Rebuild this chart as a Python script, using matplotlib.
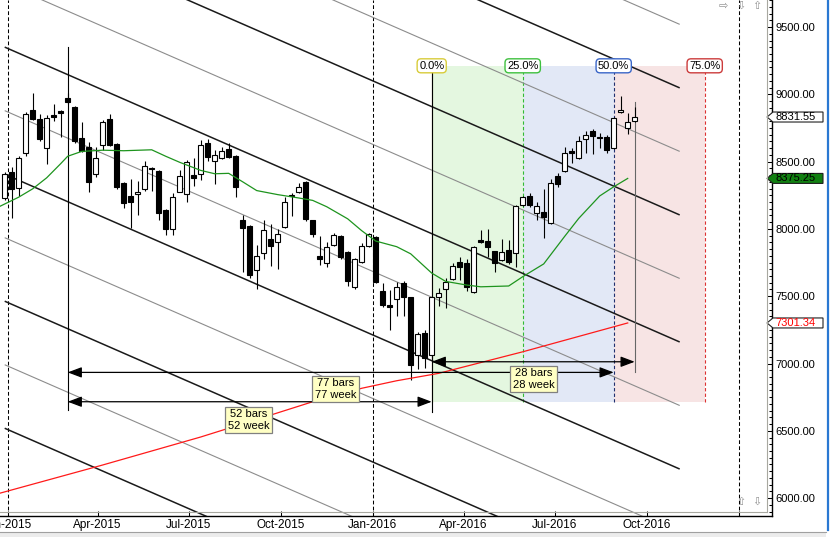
import matplotlib
matplotlib.use('Agg')
import matplotlib.pyplot as plt
import matplotlib.dates as mdates
import matplotlib.transforms as mtransforms
from matplotlib.patches import Rectangle, Polygon
from matplotlib.lines import Line2D
from matplotlib.ticker import MultipleLocator, FormatStrFormatter, FixedLocator
import pandas as pd

plt.rcParams['font.family'] = ['Liberation Sans', 'DejaVu Sans']

# weekly bars, first bar = week of 29 Dec 2014
first_week = '2014-12-29'
opens = [8229, 8423, 8304, 8564, 8883, 8816, 8601, 8846, 8876, 8972,
         8906, 8675, 8608, 8408, 8623, 8816, 8631, 8341, 8244, 8259,
         8296, 8452, 8430, 8140, 7999, 8274, 8259, 8400, 8408, 8638,
         8504, 8527, 8594, 8542, 8066, 8021, 7695, 7821, 7925, 7903,
         8014, 8244, 8274, 8348, 8066, 7799, 7746, 7880, 7947, 7828,
         7568, 7754, 7873, 7940, 7539, 7434, 7479, 7598, 7494, 7063,
         7227, 7063, 7494, 7553, 7628, 7754, 7746, 7531, 7917, 7910,
         7836, 7769, 7843, 7821, 8177, 8244, 8118, 8125, 8044, 8393,
         8430, 8579, 8527, 8668, 8727, 8683, 8683, 8601, 8868, 8750,
         8802]
highs = [8423, 8460, 8542, 8868, 9010, 8854, 8846, 8928, 8883, 9010,
         8910, 8794, 8645, 8608, 8809, 8854, 8638, 8348, 8371, 8356,
         8504, 8460, 8438, 8148, 8267, 8438, 8512, 8527, 8660, 8668,
         8586, 8608, 8638, 8549, 8103, 8029, 7880, 8066, 8036, 7999,
         8237, 8267, 8341, 8355, 8070, 7947, 7903, 7970, 7955, 7835,
         7784, 7895, 7970, 7947, 7598, 7546, 7605, 7613, 7494, 7234,
         7249, 7501, 7561, 7635, 7747, 7791, 7776, 7873, 7992, 7999,
         7836, 7925, 7917, 8177, 8245, 8267, 8200, 8296, 8371, 8415,
         8608, 8601, 8690, 8727, 8742, 8712, 8698, 8831, 8987, 8861,
         8906]
lows = [8214, 8081, 8244, 8542, 8810, 8653, 8482, 8802, 8683, 8928,
        8638, 8571, 8274, 8385, 8586, 8616, 8296, 8155, 8007, 8103,
        8281, 8281, 8066, 7955, 7955, 8274, 8200, 8318, 8363, 8504,
        8334, 8520, 8527, 8237, 7680, 7635, 7553, 7776, 7724, 7702,
        8007, 8096, 8267, 8059, 7940, 7732, 7717, 7873, 7776, 7576,
        7553, 7746, 7866, 7598, 7420, 7249, 7353, 7353, 6877, 6959,
        6967, 7041, 7427, 7412, 7620, 7620, 7539, 7524, 7895, 7791,
        7680, 7761, 7740, 7717, 8170, 8163, 8066, 7932, 8036, 8311,
        8423, 8490, 8520, 8564, 8556, 8601, 8564, 8594, 8861, 8705,
        8795]
closes = [8408, 8296, 8527, 8854, 8816, 8668, 8824, 8831, 8861, 8943,
          8653, 8579, 8348, 8527, 8794, 8623, 8311, 8192, 8200, 8274,
          8467, 8445, 8118, 7999, 8237, 8393, 8497, 8378, 8623, 8534,
          8549, 8579, 8534, 8311, 8007, 7657, 7799, 7992, 7873, 7962,
          8200, 8252, 8311, 8073, 7962, 7776, 7865, 7955, 7791, 7613,
          7776, 7873, 7962, 7605, 7434, 7420, 7568, 7494, 6989, 7219,
          7041, 7494, 7524, 7605, 7724, 7717, 7568, 7865, 7903, 7865,
          7746, 7828, 7754, 8170, 8237, 8177, 8170, 8088, 8341, 8334,
          8564, 8564, 8653, 8698, 8690, 8675, 8586, 8824, 8883, 8794,
          8831.55]

green_weeks = [-1, 2, 4, 6, 8, 9, 11, 14, 17, 21, 23, 25, 28, 30, 32, 34, 36,
               39, 42, 44, 46, 49, 51, 53, 56, 58, 61, 63, 66, 68, 72, 74, 77,
               80, 82, 85, 87, 89]
green_ma = [8160, 8236, 8298, 8380, 8485, 8540, 8576, 8585, 8581, 8588, 8540,
            8495, 8435, 8410, 8413, 8350, 8285, 8255, 8230, 8212, 8165, 8075,
            7987, 7910, 7868, 7815, 7672, 7610, 7583, 7570, 7576, 7645, 7740,
            7945, 8078, 8245, 8313, 8375.25]
red_weeks = [-1, 14, 28, 38, 44, 51, 56, 62, 74, 89]
red_ma = [6032, 6246, 6454, 6617, 6716, 6816, 6872, 6927, 7087, 7301.34]

# regression channel: start prices at first bar, common drop to end date
chan_end = '2016-11-03'
chan_start_prices = [11711, 11239, 10767, 10295, 9823, 9351, 8879,
                     8407, 7935, 7463, 6991, 6519]
chan_dark = [False, True, False, True, False, True, False,
             True, False, True, False, True]
chan_drop = 2191

# fibonacci time zones
zone_dates = ['2016-02-29', '2016-05-30', '2016-08-29', '2016-11-28']
zone_labels = ['0.0%', '25.0%', '50.0%', '75.0%']
zone_edge = ['#d8cc3a', '#3fc03f', '#3a66c8', '#cc3c3c']
zone_line = ['#8a8a20', '#33bb33', '#1f2f6f', '#dd3333']
zone_fill = ['#e4f7e0', '#e2e8f6', '#f7e4e4']
zone_top = 9210
zone_bottom = 6716

# bar-count measurements
meas_start = ['2015-03-02', '2015-03-02', '2016-02-29']
meas_end = ['2016-02-29', '2016-08-29', '2016-09-19']
meas_price = [6716, 6934, 7013]
meas_text = ['52 bars\n52 week', '77 bars\n77 week', '28 bars\n28 week']
meas_label_date = ['2015-08-30', '2015-11-25', '2016-06-10']
meas_label_price = [6580, 6810, 6885]
meas_vdates = ['2015-03-02', '2016-02-29', '2016-09-19']
meas_vlow = [6654, 6642, 6937]
meas_vhigh = [9351, 9210, 8943]
meas_vcolor = ['black', 'black', '#666666']

year_lines = ['2015-01-01', '2016-01-01', '2017-01-01']
tick_dates = ['2015-01-01', '2015-04-01', '2015-07-01', '2015-10-01',
              '2016-01-01', '2016-04-01', '2016-07-01', '2016-10-01']

flag_values = [8831.55, 8375.25, 7301.34]
flag_face = ['white', '#118011', 'white']
flag_text = ['black', 'black', '#ff0000']


def dn(s):
    return mdates.date2num(pd.Timestamp(s))


W, H = 831, 537
fig = plt.figure(figsize=(W / 100, H / 100), dpi=100)
ax = fig.add_axes([0, 21 / H, 772 / W, 516 / H])

x_bars = mdates.date2num(pd.date_range(first_week, periods=len(opens), freq='7D'))
x0 = x_bars[0]
ax.set_xlim(x0 - 4.7, x0 + 767.3)
ax.set_ylim(5867, 9701)

# time zones
for i in range(3):
    ax.add_patch(Rectangle((dn(zone_dates[i]), zone_bottom),
                           dn(zone_dates[i + 1]) - dn(zone_dates[i]),
                           zone_top - zone_bottom, fc=zone_fill[i], ec='none', zorder=0))
for i, d in enumerate(zone_dates):
    ls = '-' if i == 0 else (0, (3, 2))
    ax.plot([dn(d), dn(d)], [zone_bottom, zone_top], color=zone_line[i], lw=0.8,
            ls=ls, zorder=1)
    ax.text(dn(d), 9212, zone_labels[i], ha='center', va='center', fontsize=8,
            bbox=dict(boxstyle='round,pad=0.18,rounding_size=0.35', fc='white',
                      ec=zone_edge[i], lw=1), zorder=9)

# year separators
for d in year_lines:
    ax.axvline(dn(d), color='black', lw=0.75, ls=(0, (3.6, 2.2)), zorder=2)

# channel lines
xe = dn(chan_end)
for p, dark in zip(chan_start_prices, chan_dark):
    ax.plot([x0, xe], [p, p - chan_drop], color='#1a1a1a' if dark else '#8c8c8c',
            lw=1.1 if dark else 0.8, zorder=2, solid_capstyle='butt')

# measurement verticals and arrows
for d, lo, hi, c in zip(meas_vdates, meas_vlow, meas_vhigh, meas_vcolor):
    ax.plot([dn(d), dn(d)], [lo, hi], color=c, lw=0.8, zorder=3)

# candles
ax.vlines(x_bars, lows, highs, color='black', lw=0.8, zorder=4)
bottoms = [min(o, c) for o, c in zip(opens, closes)]
heights = [max(abs(c - o), 4) for o, c in zip(opens, closes)]
fills = ['white' if c >= o else 'black' for o, c in zip(opens, closes)]
ax.bar(x_bars, heights, bottom=bottoms, width=5, color=fills,
       edgecolor='black', lw=0.8, zorder=5)

# moving averages
ax.plot([x0 + 7 * w for w in green_weeks], green_ma, color='#1e941e', lw=0.9, zorder=6)
ax.plot([x0 + 7 * w for w in red_weeks], red_ma, color='#ff1a1a', lw=0.9, zorder=6)

for s, e, p in zip(meas_start, meas_end, meas_price):
    ax.annotate('', xy=(dn(e), p), xytext=(dn(s), p),
                arrowprops=dict(arrowstyle='<|-|>,head_length=0.85,head_width=0.32',
                                color='black', lw=0.9, shrinkA=0, shrinkB=0),
                zorder=7)
for t, d, p in zip(meas_text, meas_label_date, meas_label_price):
    ax.text(dn(d), p, t, ha='center', va='center', fontsize=8, linespacing=1.15,
            bbox=dict(boxstyle='square,pad=0.25', fc='#ffffc4', ec='#808080', lw=0.9),
            zorder=10)

# axes styling
for s in ['left', 'top']:
    ax.spines[s].set_visible(False)
for s in ['right', 'bottom']:
    ax.spines[s].set_linewidth(1.0)
ax.yaxis.tick_right()
ax.yaxis.set_major_locator(MultipleLocator(500))
ax.yaxis.set_minor_locator(MultipleLocator(50))
ax.yaxis.set_major_formatter(FormatStrFormatter('%.2f'))
ax.tick_params(axis='y', which='major', direction='in', length=3.6, width=0.75,
               pad=2.5, labelsize=8)
ax.tick_params(axis='y', which='minor', direction='in', length=2.2, width=0.75)
ax.xaxis.set_major_locator(FixedLocator([dn(d) for d in tick_dates]))
ax.xaxis.set_minor_locator(FixedLocator([dn(year_lines[-1])]))
ax.xaxis.set_major_formatter(mdates.DateFormatter('%b-%Y'))
ax.tick_params(axis='x', which='both', direction='in', length=3.6, width=0.75,
               pad=2.5, labelsize=8.5)

# price flags on the axis
tr = mtransforms.blended_transform_factory(fig.transFigure, ax.transData)
hh = 5 * 7.43
for v, fc, tc in zip(flag_values, flag_face, flag_text):
    poly = Polygon([(767 / W, v), (773 / W, v + hh), (823 / W, v + hh),
                    (823 / W, v - hh), (773 / W, v - hh)], closed=True,
                   fc=fc, ec='#202020', lw=0.8, transform=tr, clip_on=False, zorder=20)
    ax.add_patch(poly)
    ax.text(775.5 / W, v, '%.2f' % v, transform=tr, fontsize=8, color=tc,
            ha='left', va='center', clip_on=False, zorder=21)

# inner frame and window chrome
gy = (H - 511.5) / H
gx = 767 / W
fig.add_artist(Line2D([gx, gx], [gy, 1], color='#a8a8a0', lw=0.8))
fig.add_artist(Line2D([0, gx], [gy, gy], color='#a8a8a0', lw=0.8))
fig.add_artist(Line2D([827.5 / W, 827.5 / W], [(H - 530) / H, 1], color='#2a78d2', lw=1.6))
fig.add_artist(Rectangle((0, 0), 826 / W, 5 / H, transform=fig.transFigure,
                         fc='#ececec', ec='none'))
fig.add_artist(Line2D([0, 826 / W], [5 / H, 5 / H], color='#a0a0a0', lw=0.8))
for px, py, s in [(723, 6, '\u21e8'), (741, 6, '\u21e9'), (757, 6, '\u21e7'),
                  (741, 502, '\u21e7'), (757, 502, '\u21e9')]:
    fig.text(px / W, 1 - py / H, s, ha='center', va='center', fontsize=8,
             color='#909090', family=['DejaVu Sans'])

fig.savefig('out.png', dpi=100)
